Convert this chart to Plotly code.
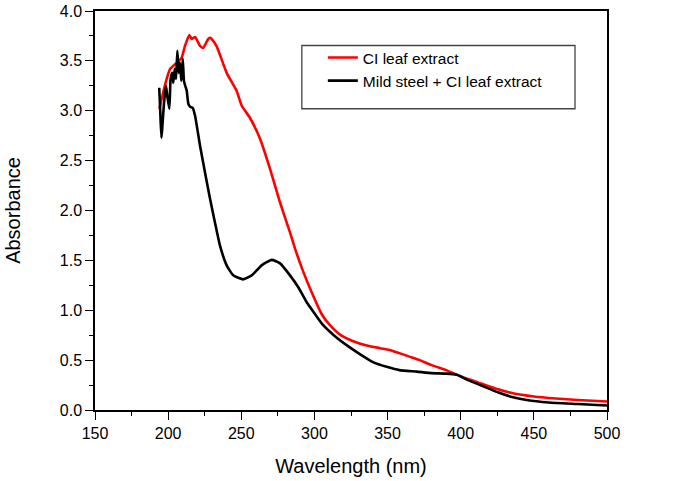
import plotly.graph_objects as go

# CI leaf extract (red)
wl_leaf = [194, 196.7, 199, 201.3, 203.5, 205.8, 209.2, 211.5, 214.5, 216.1, 218.4, 221.8, 224,
           227.4, 229, 233, 240, 246.8, 250.3, 255.9, 262.8, 269.6, 276.5, 283.3, 286.7, 292, 299,
           305, 310.6, 318, 326.5, 335, 345, 352, 358, 365, 372, 380, 390, 397, 405, 415, 425, 435,
           450, 465, 480, 500]
abs_leaf = [3.02, 3.19, 3.32, 3.42, 3.45, 3.48, 3.53, 3.65, 3.76, 3.72, 3.74, 3.65, 3.63,
            3.72, 3.73, 3.65, 3.38, 3.20, 3.05, 2.93, 2.72, 2.42, 2.08, 1.78, 1.62, 1.40, 1.15,
            0.96, 0.85, 0.75, 0.69, 0.65, 0.62, 0.60, 0.57, 0.535, 0.50, 0.45, 0.40, 0.355, 0.31,
            0.26, 0.21, 0.17, 0.135, 0.115, 0.10, 0.085]

# Mild steel + CI leaf extract (black)
wl_steel = [193.9, 194.6, 195.4, 197.2, 198.5, 199.4, 200.8, 201.7, 202.8, 203.5, 204.5, 205.4,
            206.3, 207.2, 208.1, 209, 210, 210.8, 211.7, 212.7, 213.8, 215, 216.8, 218.4, 221.8,
            225.2, 228.6, 232, 235.4, 240, 244.5, 251.4, 257.1, 263.9, 270.8, 276.5, 283.3, 289,
            294.7, 300, 306, 314, 322, 330, 340, 350, 358, 370, 380, 390, 397, 405, 415, 425,
            435, 445, 460, 480, 500]
abs_steel = [3.23, 3.0, 2.73, 3.08, 3.25, 3.15, 3.02, 3.32, 3.38, 3.28, 3.42, 3.32,
             3.60, 3.38, 3.48, 3.30, 3.52, 3.30, 3.25, 3.20, 3.07, 3.04, 3.03, 2.95, 2.65,
             2.38, 2.12, 1.88, 1.65, 1.45, 1.35, 1.31, 1.35, 1.45, 1.505, 1.47, 1.35, 1.23,
             1.08, 0.97, 0.85, 0.74, 0.65, 0.57, 0.48, 0.43, 0.40, 0.385, 0.37, 0.365, 0.355,
             0.30, 0.24, 0.18, 0.13, 0.10, 0.075, 0.06, 0.045]

font = "Liberation Sans, Arial, sans-serif"

fig = go.Figure()
fig.add_trace(go.Scatter(x=wl_leaf, y=abs_leaf, mode='lines', name='CI leaf extract',
                         line=dict(color='#ff0000', width=2.6, shape='spline', smoothing=0.5)))
fig.add_trace(go.Scatter(x=wl_steel, y=abs_steel, mode='lines', name='Mild steel + CI leaf extract',
                         line=dict(color='#000000', width=2.6, shape='spline', smoothing=0.5)))

# legend frame
fig.add_shape(type='rect', xref='paper', yref='paper', x0=0.404, x1=0.9375, y0=0.755, y1=0.9135,
              line=dict(color='#444444', width=1.3), fillcolor='rgba(0,0,0,0)')

axis_common = dict(showgrid=False, zeroline=False, showline=True, linecolor='black', linewidth=1.5,
                   mirror=True, ticks='outside', ticklen=8, tickwidth=1.3, tickcolor='black',
                   automargin=False,
                   tickfont=dict(family=font, size=16, color='black'))

fig.update_xaxes(range=[150, 500], dtick=50, title=dict(text='Wavelength (nm)',
                 font=dict(family=font, size=20, color='black'), standoff=18),
                 minor=dict(dtick=25, ticks='outside', ticklen=4, tickcolor='black', tickwidth=1.2),
                 **axis_common)
fig.update_yaxes(range=[0, 4], dtick=0.5, tickformat='.1f', title=dict(text='Absorbance',
                 font=dict(family=font, size=20, color='black'), standoff=34),
                 minor=dict(dtick=0.25, ticks='outside', ticklen=4, tickcolor='black', tickwidth=1.2),
                 **axis_common)

fig.update_layout(width=685, height=481, plot_bgcolor='white', paper_bgcolor='white',
                  margin=dict(l=95, r=78, t=11, b=71),
                  legend=dict(x=0.445, y=0.925, xanchor='left', yanchor='top',
                              bgcolor='rgba(0,0,0,0)', borderwidth=0,
                              font=dict(family=font, size=15.5, color='black'),
                              tracegroupgap=0, itemwidth=30))

fig.write_html("out.html", config={'displayModeBar': False},
               post_script="document.body.style.margin='0';")
